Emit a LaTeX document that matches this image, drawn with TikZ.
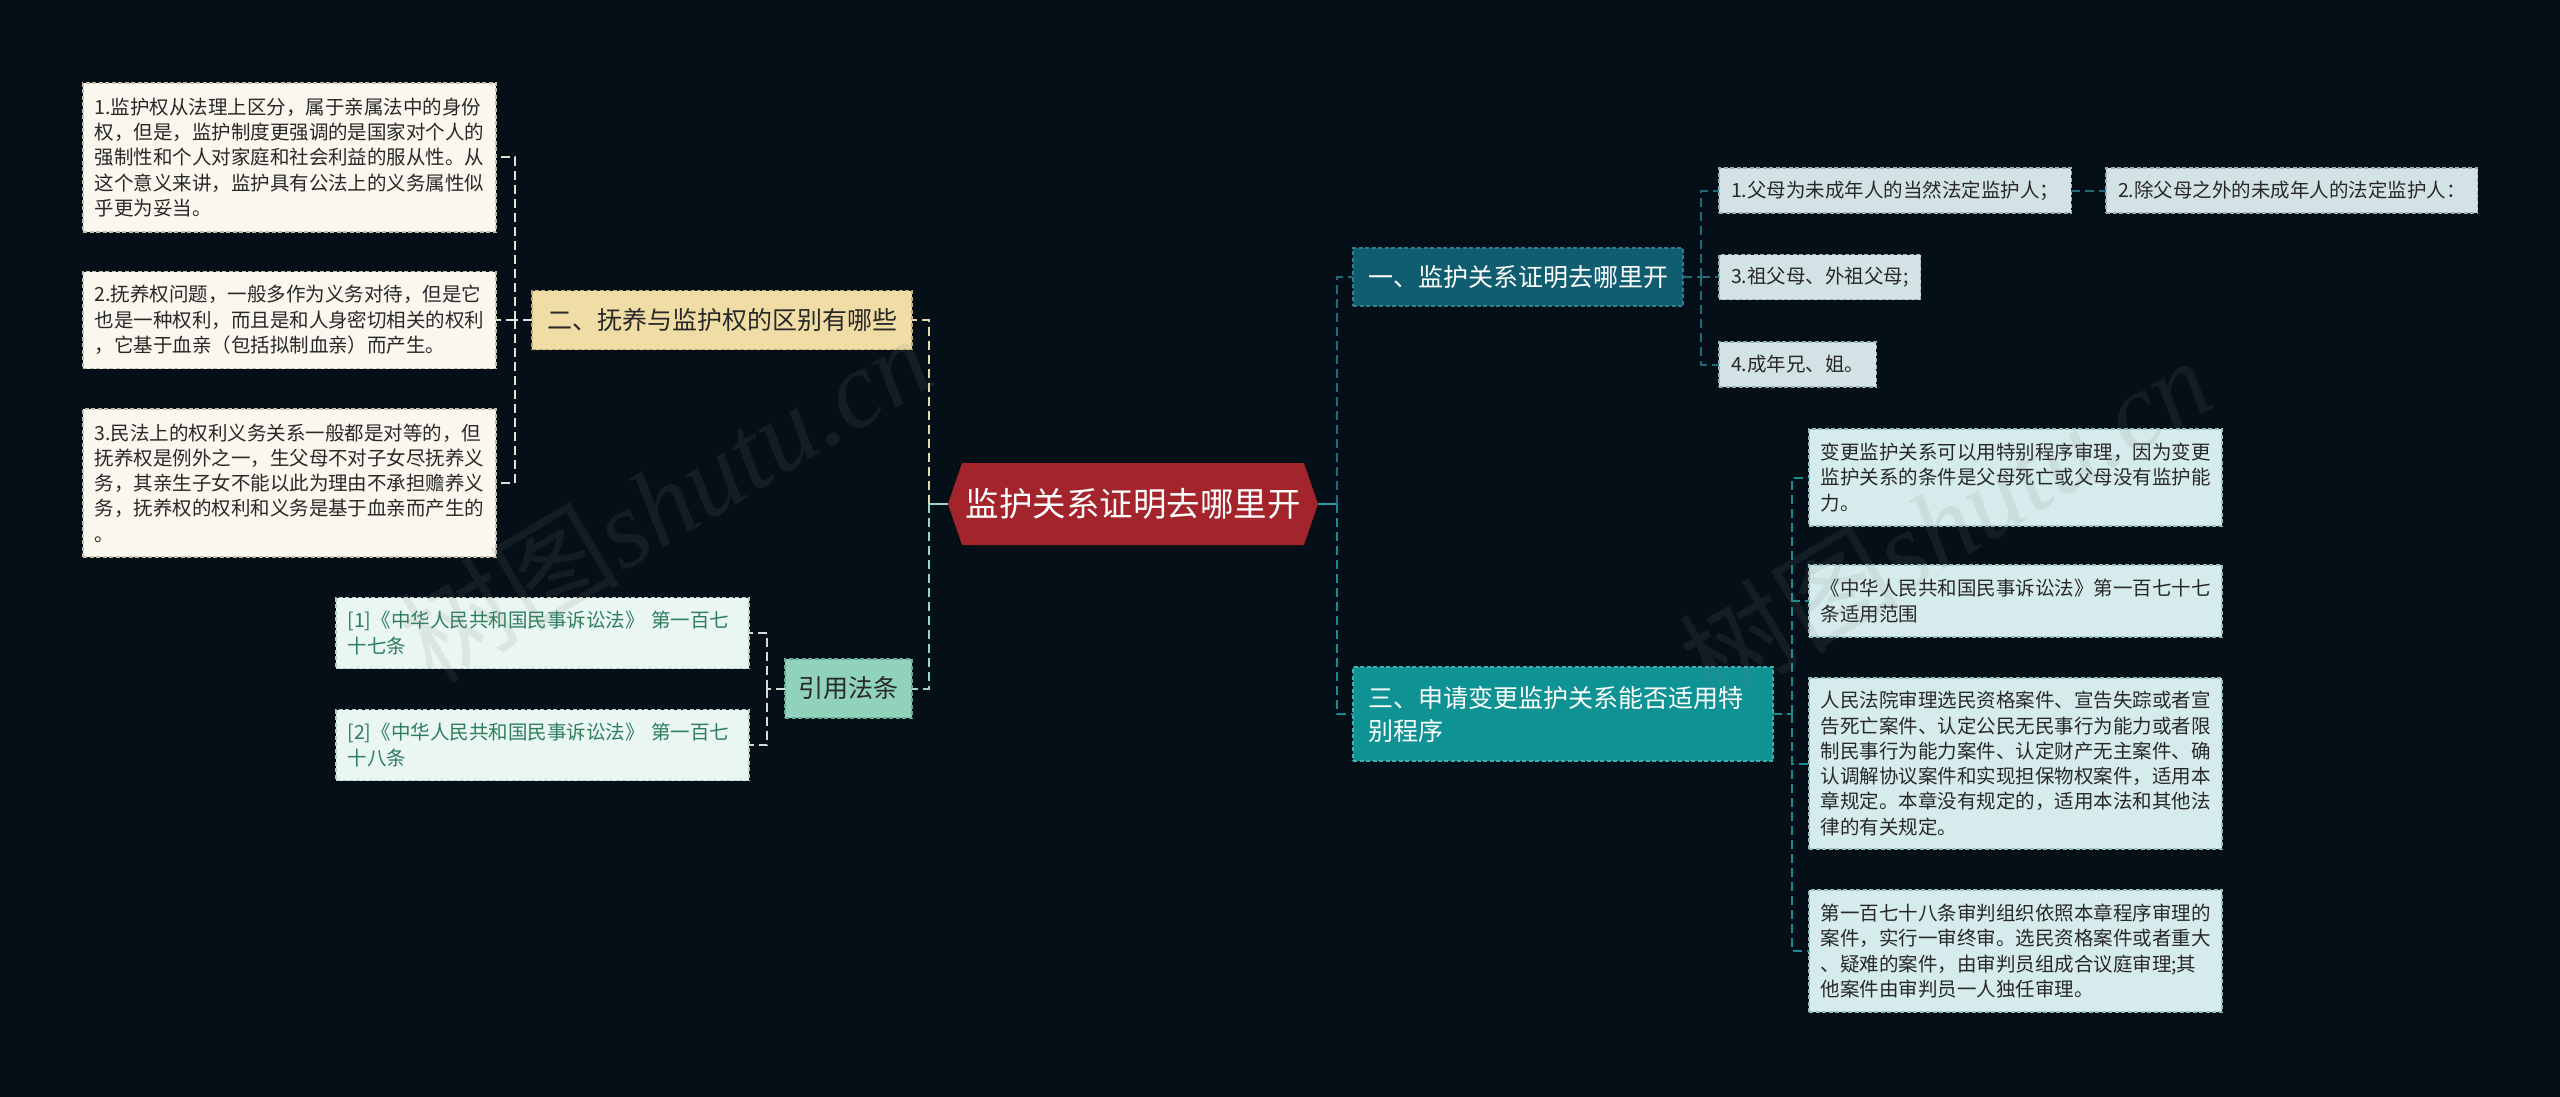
\documentclass[tikz,border=0pt]{standalone}
\usepackage{fontspec}
\setmainfont{Noto Sans CJK SC}
\newfontfamily\wmserif{Liberation Serif}
\usetikzlibrary{backgrounds}
\definecolor{bgc}{RGB}{4,15,23}
\definecolor{rootred}{RGB}{163,36,43}
\definecolor{tanfill}{RGB}{240,221,165}
\definecolor{tanline}{RGB}{190,172,118}
\definecolor{creamfill}{RGB}{250,247,238}
\definecolor{creamline}{RGB}{196,190,172}
\definecolor{mintfill}{RGB}{144,210,187}
\definecolor{mintline}{RGB}{104,170,148}
\definecolor{citefill}{RGB}{233,246,242}
\definecolor{citeline}{RGB}{180,206,196}
\definecolor{citetext}{RGB}{46,125,91}
\definecolor{onefill}{RGB}{15,93,111}
\definecolor{oneline}{RGB}{50,125,140}
\definecolor{oneleaf}{RGB}{210,226,229}
\definecolor{oneleafline}{RGB}{150,178,184}
\definecolor{threefill}{RGB}{14,146,148}
\definecolor{threeline}{RGB}{60,176,176}
\definecolor{threeleaf}{RGB}{214,236,236}
\definecolor{threeleafline}{RGB}{150,192,192}
\definecolor{txt}{RGB}{40,40,40}
\definecolor{cmint}{RGB}{154,214,196}
\definecolor{ccream}{RGB}{228,218,176}
\definecolor{cwhite}{RGB}{228,226,216}
\definecolor{cgray}{RGB}{210,220,216}
\definecolor{cteal}{RGB}{38,158,164}
\definecolor{cteal1}{RGB}{32,108,124}
\definecolor{cteal3}{RGB}{24,140,146}
\newcommand\fsz[2]{\fontsize{#1pt}{#2pt}\selectfont}
\tikzset{
  boxbase/.style={inner ysep=0pt, outer sep=0pt, line width=1.3pt, dash pattern=on 4pt off 2.5pt},
  leafL/.style={boxbase, fill=creamfill, draw=creamline, text=txt, font=\fsz{19.5}{25.3}, text width=390pt, inner xsep=11.5pt, align=left},
  citebox/.style={boxbase, fill=citefill, draw=citeline, text=citetext, font=\fsz{19.5}{25.3}, text width=390pt, inner xsep=11.5pt, align=left},
  leafA/.style={boxbase, fill=oneleaf, draw=oneleafline, text=txt, font=\fsz{19.5}{25.3}, inner xsep=12pt, minimum height=45pt},
  leafB/.style={boxbase, fill=threeleaf, draw=threeleafline, text=txt, font=\fsz{19.5}{25.3}, text width=390pt, inner xsep=11.5pt, align=left},
  branchtan/.style={boxbase, fill=tanfill, draw=tanline, text=txt, font=\fsz{25}{33}, inner xsep=15pt, minimum height=59pt},
  branchmint/.style={boxbase, fill=mintfill, draw=mintline, text=txt, font=\fsz{25}{33}, inner xsep=13.5pt, minimum height=59pt},
  branchone/.style={boxbase, fill=onefill, draw=oneline, text=white, font=\fsz{25}{33}, inner xsep=15pt, minimum height=58pt},
  branchthree/.style={boxbase, fill=threefill, draw=threeline, text=white, font=\fsz{25}{33}, text width=390pt, inner xsep=15pt, align=left, minimum height=94pt},
  rootnode/.style={inner sep=0pt, outer sep=0pt, minimum width=370pt, minimum height=82pt, text=white, font=\fsz{33.5}{40}},
  conn/.style={line width=2pt, dash pattern=on 9pt off 5pt},
  solidconn/.style={line width=2.2pt},
  wmark/.style={text=gray, opacity=0.13, font=\fsz{110}{120}, inner sep=0pt}
}
\begin{document}
\begin{tikzpicture}[x=1pt,y=-1pt]
\useasboundingbox (0,0) rectangle (2560,1097);
% root
\node[rootnode] (root) at (1133,504) {监护关系证明去哪里开};
\begin{scope}[on background layer]
\fill[bgc] (0,0) rectangle (2560,1097);
\fill[rootred] (root.west) -- ([xshift=14pt]root.north west) -- ([xshift=-14pt]root.north east) -- (root.east) -- ([xshift=-14pt]root.south east) -- ([xshift=14pt]root.south west) -- cycle;
\end{scope}
% left branch
\node[branchtan] (two) at (722,320) {二、抚养与监护权的区别有哪些};
\node[leafL, minimum height=149pt] (L1) at (289.5,157.5) {1.监护权从法理上区分，属于亲属法中的身份\\权，但是，监护制度更强调的是国家对个人的\\强制性和个人对家庭和社会利益的服从性。从\\这个意义来讲，监护具有公法上的义务属性似\\乎更为妥当。};
\node[leafL, minimum height=97pt] (L2) at (289.5,320) {2.抚养权问题，一般多作为义务对待，但是它\\也是一种权利，而且是和人身密切相关的权利\\，它基于血亲（包括拟制血亲）而产生。};
\node[leafL, minimum height=148pt] (L3) at (289.5,483) {3.民法上的权利义务关系一般都是对等的，但\\抚养权是例外之一，生父母不对子女尽抚养义\\务，其亲生子女不能以此为理由不承担赡养义\\务，抚养权的权利和义务是基于血亲而产生的\\。};
\node[branchmint] (cite) at (848.5,688.5) {引用法条};
\node[citebox, minimum height=71pt] (C1) at (542.5,633) {[1]《中华人民共和国民事诉讼法》 第一百七\\十七条};
\node[citebox, minimum height=71pt] (C2) at (542.5,745) {[2]《中华人民共和国民事诉讼法》 第一百七\\十八条};
% right branch one
\node[branchone, anchor=west] (one) at (1353,277) {一、监护关系证明去哪里开};
\node[leafA, anchor=west] (R11) at (1719,190.5) {1.父母为未成年人的当然法定监护人；};
\node[leafA, anchor=west] (R12) at (2106,190.5) {2.除父母之外的未成年人的法定监护人：};
\node[leafA, anchor=west] (R13) at (1719,277) {3.祖父母、外祖父母;};
\node[leafA, anchor=west] (R14) at (1719,364.5) {4.成年兄、姐。};
% right branch three
\node[branchthree] (three) at (1563,714) {三、申请变更监护关系能否适用特\\别程序};
\node[leafB, minimum height=97pt] (Ta) at (2015.5,477.5) {变更监护关系可以用特别程序审理，因为变更\\监护关系的条件是父母死亡或父母没有监护能\\力。};
\node[leafB, minimum height=72pt] (Tb) at (2015.5,601) {《中华人民共和国民事诉讼法》第一百七十七\\条适用范围};
\node[leafB, minimum height=171pt] (Tc) at (2015.5,763.5) {人民法院审理选民资格案件、宣告失踪或者宣\\告死亡案件、认定公民无民事行为能力或者限\\制民事行为能力案件、认定财产无主案件、确\\认调解协议案件和实现担保物权案件，适用本\\章规定。本章没有规定的，适用本法和其他法\\律的有关规定。};
\node[leafB, minimum height=122pt] (Td) at (2015.5,951) {第一百七十八条审判组织依照本章程序审理的\\案件，实行一审终审。选民资格案件或者重大\\、疑难的案件，由审判员组成合议庭审理;其\\他案件由审判员一人独任审理。};
% connectors: left trunk
\coordinate (LT) at (929,504);
\draw[solidconn, cmint] (root.west) -- (LT);
\draw[conn, ccream] (LT) |- (two.east);
\draw[conn, cmint] (LT) |- (cite.east);
% left leaves
\coordinate (LJ) at (515,320);
\draw[conn, cwhite] (two.west) -- (LJ);
\draw[conn, cwhite] (LJ) |- (L1.east);
\draw[conn, cwhite] (LJ) -- (L2.east);
\draw[conn, cwhite] (LJ) |- (L3.east);
% citations
\coordinate (CJ) at (767,688.5);
\draw[conn, cgray] (cite.west) -- (CJ);
\draw[conn, cgray] (CJ) |- (C1.east);
\draw[conn, cgray] (CJ) |- (C2.east);
% right trunk
\coordinate (RT) at (1337,504);
\draw[solidconn, cteal] (root.east) -- (RT);
\draw[conn, cteal1] (RT) |- (one.west);
\draw[conn, cteal3] (RT) |- (three.west);
% one children
\coordinate (OJ) at (1701,277);
\draw[conn, cteal1] (one.east) -- (OJ);
\draw[conn, cteal1] (OJ) |- (R11.west);
\draw[conn, cteal1] (OJ) -- (R13.west);
\draw[conn, cteal1] (OJ) |- (R14.west);
\draw[conn, cteal1] (R11.east) -- (R12.west);
% three children
\coordinate (TJ) at (1792,714);
\draw[conn, cteal3] (three.east) -- (TJ);
\draw[conn, cteal3] (TJ) |- (Ta.west);
\draw[conn, cteal3] (TJ) |- (Tb.west);
\draw[conn, cteal3] (TJ) |- (Tc.west);
\draw[conn, cteal3] (TJ) |- (Td.west);
% watermarks
\node[wmark, rotate=31] (wm1) at (665,498) {树图{\wmserif\itshape shutu.cn}};
\node[wmark, rotate=31] (wm2) at (1945,520) {树图{\wmserif\itshape shutu.cn}};
\end{tikzpicture}
\end{document}
